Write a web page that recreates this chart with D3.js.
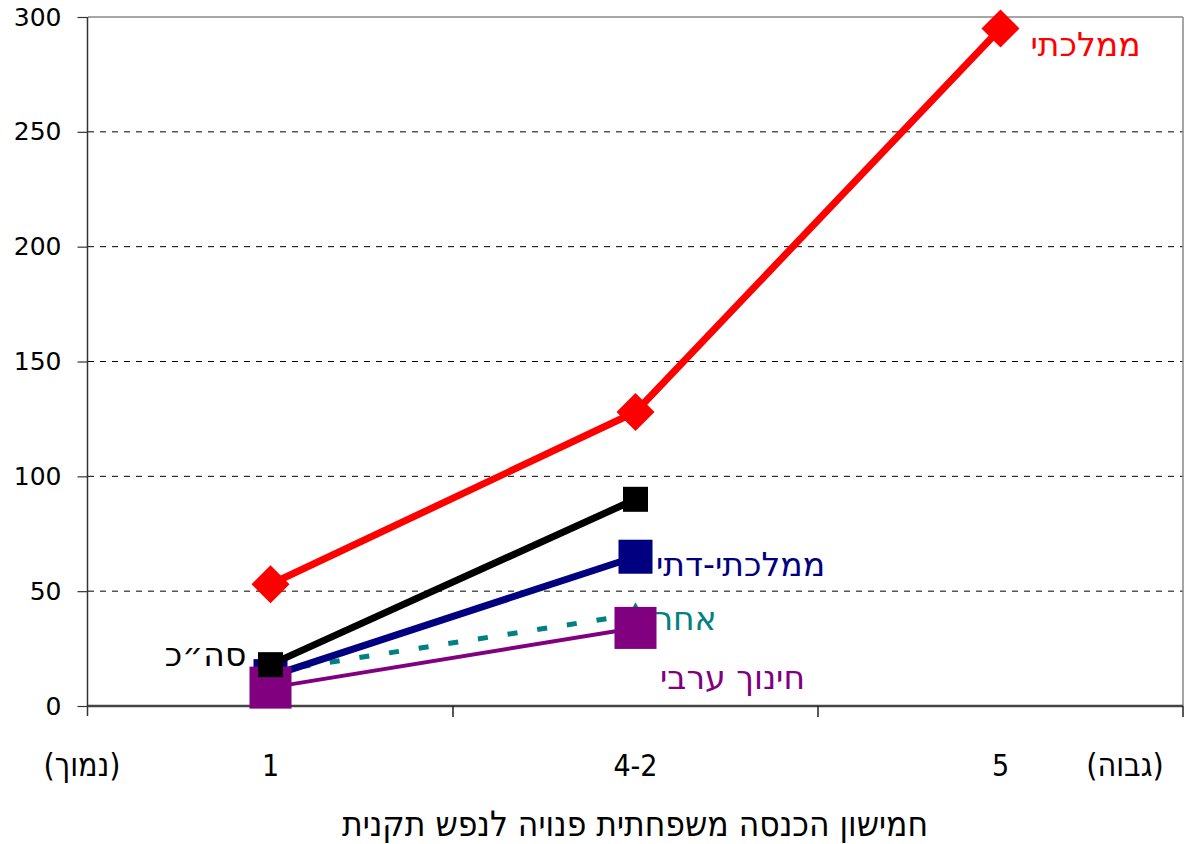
<!DOCTYPE html>
<html>
<head>
<meta charset="utf-8">
<script src="https://cdn.jsdelivr.net/npm/d3@7"></script>
<style>
  html, body { margin: 0; padding: 0; background: #fff; }
  svg { display: block; }
</style>
</head>
<body>
<svg id="chart" width="1184" height="844"></svg>
<script>
// ---- data ----
const categories = ["1", "4-2", "5"];
const yTicks = [0, 50, 100, 150, 200, 250, 300];
const mamlachti = [53, 128, 295];          // ממלכתי
const total = [18, 90];                     // סה״כ
const mamlachtiDati = [13, 65];             // ממלכתי-דתי
const other = [15, 40];                     // אחר
const arab = [8, 34];                       // חינוך ערבי
const seriesNames = ["אחר", "ממלכתי-דתי", "חינוך ערבי", "סה״כ", "ממלכתי"];
const xTitle = "חמישון הכנסה משפחתית פנויה לנפש תקנית";
const lowLabel = "(נמוך)";
const highLabel = "(גבוה)";

// ---- layout ----
const svg = d3.select("#chart");
const L = 88, R = 1183, T = 17, B = 706;
const x = d3.scaleBand().domain(categories).range([L, R]);
const y = d3.scaleLinear().domain([0, 300]).range([B, T]);
const cx = c => x(c) + x.bandwidth() / 2;

// gridlines
svg.append("g").selectAll("line")
  .data(yTicks.filter(v => v > 0 && v < 300))
  .join("line")
  .attr("x1", L).attr("x2", R)
  .attr("y1", d => y(d)).attr("y2", d => y(d))
  .attr("stroke", "#000").attr("stroke-width", 1)
  .attr("stroke-dasharray", "6,6");

// plot border top/right
svg.append("line").attr("x1", L).attr("x2", R).attr("y1", T).attr("y2", T)
  .attr("stroke", "#888").attr("stroke-width", 1.5);
svg.append("line").attr("x1", R).attr("x2", R).attr("y1", T).attr("y2", B)
  .attr("stroke", "#888").attr("stroke-width", 1.5);

// y axis
const yAxis = svg.append("g").attr("transform", `translate(${L - 0.5},0)`)
  .call(d3.axisLeft(y).tickValues(yTicks).tickSize(10).tickPadding(16).tickSizeOuter(0));
yAxis.select(".domain").attr("stroke", "#333").attr("stroke-width", 1.5)
  .attr("d", `M0,${T}V${B + 10}`);
yAxis.selectAll(".tick line").attr("stroke", "#333").attr("stroke-width", 1.2);
yAxis.selectAll(".tick text")
  .attr("font-family", "'DejaVu Sans', sans-serif")
  .attr("font-size", 25).attr("fill", "#000");

// x axis
const xAxis = svg.append("g").attr("transform", `translate(0,${B})`);
xAxis.append("line").attr("x1", L).attr("x2", R).attr("y1", 0).attr("y2", 0)
  .attr("stroke", "#444").attr("stroke-width", 2.5);
const bounds = categories.slice(1).map(c => x(c)).concat([R]);
xAxis.selectAll("line.tk").data(bounds).join("line").attr("class", "tk")
  .attr("x1", d => d).attr("x2", d => d).attr("y1", 0).attr("y2", 11)
  .attr("stroke", "#222").attr("stroke-width", 1.5);

const labFont = "'DejaVu Sans Condensed', 'DejaVu Sans', sans-serif";
svg.append("g").selectAll("text").data(categories).join("text")
  .attr("x", d => cx(d)).attr("y", 776)
  .attr("text-anchor", "middle")
  .attr("font-family", labFont).attr("font-size", 30)
  .text(d => d);
svg.append("text").attr("x", 82).attr("y", 776).attr("text-anchor", "middle")
  .attr("font-family", labFont).attr("font-size", 32).text(lowLabel);
svg.append("text").attr("x", 1125).attr("y", 776).attr("text-anchor", "middle")
  .attr("font-family", labFont).attr("font-size", 32).text(highLabel);
svg.append("text").attr("x", 635).attr("y", 836).attr("text-anchor", "middle")
  .attr("font-family", labFont).attr("font-size", 35).text(xTitle);

// ---- series ----
const series = [
  { name: seriesNames[0], values: other, color: "#008080", width: 5, dash: "10,20", marker: "triangle", size: 20, lab: [50, 16] },
  { name: seriesNames[1], values: mamlachtiDati, color: "#000080", width: 7, dash: null, marker: "square", size: 34, lab: [105, 19] },
  { name: seriesNames[2], values: arab, color: "#800080", width: 4, dash: null, marker: "square", size: 42, lab: [97, 61] },
  { name: seriesNames[3], values: total, color: "#000000", width: 7, dash: null, marker: "square", size: 25, lab: [-65, 1], labAt: 0 },
  { name: seriesNames[4], values: mamlachti, color: "#ff0000", width: 7, dash: null, marker: "diamond", size: 38, lab: [85, 28] }
];

const line = d3.line().x((d, i) => cx(categories[i])).y(d => y(d));
const hebFont = "'DejaVu Sans', 'Liberation Sans', sans-serif";

series.forEach(s => {
  const g = svg.append("g");
  g.append("path").datum(s.values).attr("d", line)
    .attr("fill", "none").attr("stroke", s.color).attr("stroke-width", s.width)
    .attr("stroke-dasharray", s.dash);
  const pts = s.values.map((v, i) => [cx(categories[i]), y(v)]);
  if (s.marker === "square") {
    g.selectAll("rect").data(pts).join("rect")
      .attr("x", d => d[0] - s.size / 2).attr("y", d => d[1] - s.size / 2)
      .attr("width", s.size).attr("height", s.size).attr("fill", s.color);
  } else if (s.marker === "diamond") {
    const h = s.size / 2;
    g.selectAll("path.m").data(pts).join("path").attr("class", "m")
      .attr("d", d => `M${d[0]},${d[1] - h}L${d[0] + h},${d[1]}L${d[0]},${d[1] + h}L${d[0] - h},${d[1]}Z`)
      .attr("fill", s.color);
  } else {
    g.selectAll("path.m").data(pts).join("path").attr("class", "m")
      .attr("transform", d => `translate(${d[0]},${d[1]})`)
      .attr("d", d3.symbol(d3.symbolTriangle, s.size * s.size * 0.45)())
      .attr("fill", s.color);
  }
  const li = s.labAt !== undefined ? s.labAt : pts.length - 1;
  svg.append("text")
    .attr("x", pts[li][0] + s.lab[0]).attr("y", pts[li][1] + s.lab[1])
    .attr("text-anchor", "middle")
    .attr("font-family", hebFont).attr("font-size", 33)
    .attr("fill", s.color).text(s.name);
});
</script>
</body>
</html>
